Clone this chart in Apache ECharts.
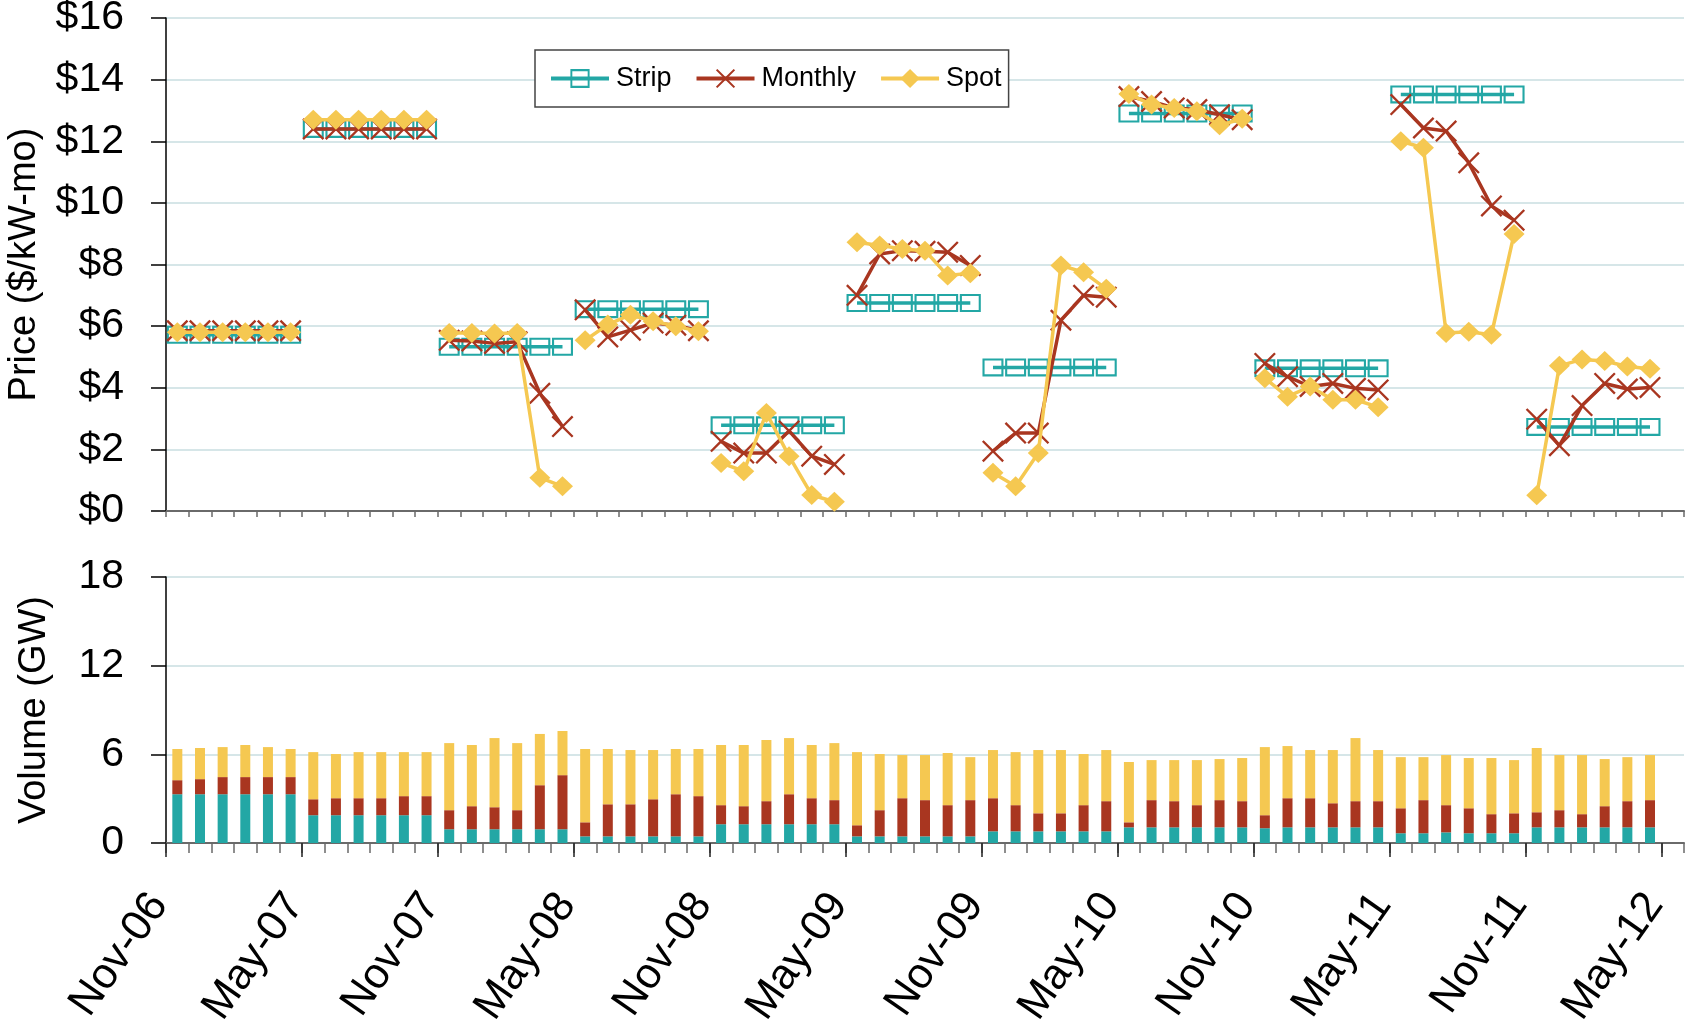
<!DOCTYPE html>
<html><head><meta charset="utf-8">
<script src="https://cdn.jsdelivr.net/npm/echarts@6/dist/echarts.min.js"></script>
<style>html,body{margin:0;padding:0;background:#fff}#c{width:1686px;height:1021px}</style>
</head><body><div id="c"></div>
<script>
// ---- data (months from Nov-06, one value per month, 6-month capability periods) ----
const xTickLabels = ['Nov-06','May-07','Nov-07','May-08','Nov-08','May-09','Nov-09','May-10','Nov-10','May-11','Nov-11','May-12'];
const seriesNames = ['Strip','Monthly','Spot'];
const monthsPerPeriod = 6;

const stripPrice = [
  5.72,5.72,5.72,5.72,5.72,5.72,
  12.4,12.4,12.4,12.4,12.4,12.4,
  5.33,5.33,5.33,5.33,5.33,5.33,
  6.55,6.55,6.55,6.55,6.55,6.55,
  2.78,2.78,2.78,2.78,2.78,2.78,
  6.75,6.75,6.75,6.75,6.75,6.75,
  4.66,4.66,4.66,4.66,4.66,4.66,
  12.9,12.9,12.9,12.9,12.9,12.9,
  4.63,4.63,4.63,4.63,4.63,4.63,
  13.52,13.52,13.52,13.52,13.52,13.52,
  2.73,2.73,2.73,2.73,2.73,2.73
];
const monthlyPrice = [
  5.85,5.85,5.85,5.85,5.85,5.85,
  12.4,12.4,12.4,12.4,12.4,12.4,
  5.54,5.52,5.44,5.49,3.82,2.74,
  6.53,5.65,5.87,6.1,6.03,5.85,
  2.26,1.88,1.88,2.6,1.78,1.51,
  7.0,8.34,8.45,8.43,8.4,7.97,
  1.94,2.53,2.53,6.19,7.0,6.94,
  13.45,13.29,13.08,13.03,12.86,12.7,
  4.79,4.36,4.04,4.14,3.98,3.93,
  13.19,12.43,12.33,11.3,9.9,9.44,
  2.98,2.12,3.42,4.14,3.96,4.01
];
const spotPrice = [
  5.8,5.8,5.8,5.8,5.8,5.8,
  12.7,12.7,12.7,12.7,12.7,12.7,
  5.78,5.78,5.76,5.78,1.08,0.8,
  5.54,6.05,6.37,6.16,6.0,5.83,
  1.56,1.29,3.18,1.78,0.52,0.3,
  8.72,8.62,8.5,8.45,7.64,7.72,
  1.24,0.8,1.88,7.97,7.75,7.21,
  13.53,13.19,13.08,12.97,12.52,12.73,
  4.31,3.71,4.04,3.61,3.61,3.37,
  12.0,11.79,5.78,5.82,5.72,8.99,
  0.51,4.71,4.92,4.87,4.69,4.62
];
const stripVolume = [
  3.30,3.30,3.30,3.30,3.30,3.30,
  1.88,1.88,1.88,1.88,1.88,1.88,
  0.93,0.93,0.93,0.93,0.93,0.93,
  0.45,0.45,0.45,0.45,0.45,0.45,
  1.27,1.27,1.27,1.27,1.27,1.27,
  0.45,0.45,0.45,0.45,0.45,0.45,
  0.79,0.79,0.79,0.79,0.79,0.79,
  1.06,1.06,1.06,1.06,1.06,1.06,
  1.00,1.06,1.06,1.06,1.06,1.06,
  0.66,0.66,0.72,0.66,0.66,0.66,
  1.06,1.06,1.06,1.06,1.06,1.06
];
const monthlyVolume = [
  0.95,1.02,1.16,1.16,1.16,1.16,
  1.08,1.15,1.15,1.15,1.29,1.29,
  1.29,1.56,1.49,1.29,2.98,3.66,
  0.95,2.17,2.17,2.51,2.85,2.72,
  1.29,1.22,1.56,2.03,1.76,1.63,
  0.75,1.77,2.58,2.45,2.11,2.45,
  2.24,1.77,1.22,1.22,1.77,2.04,
  0.34,1.84,1.77,1.50,1.84,1.77,
  0.88,1.97,1.97,1.63,1.77,1.77,
  1.69,2.24,1.84,1.69,1.29,1.35,
  1.02,1.16,0.89,1.43,1.77,1.84
];
const spotVolume = [
  2.11,2.11,2.03,2.17,2.03,1.90,
  3.19,2.99,3.12,3.12,2.98,2.98,
  4.54,4.14,4.68,4.54,3.47,2.99,
  4.96,3.74,3.67,3.33,3.06,3.19,
  4.07,4.14,4.14,3.80,3.60,3.86,
  4.95,3.80,2.92,3.05,3.53,2.91,
  3.26,3.59,4.28,4.28,3.46,3.46,
  4.08,2.71,2.78,3.05,2.78,2.92,
  4.61,3.53,3.26,3.60,4.27,3.46,
  3.46,2.91,3.39,3.40,3.80,3.60,
  4.35,3.73,4.00,3.19,2.98,3.05
];

// month categories (Nov-06 ... May-12); the last one is the empty month at the right edge
const MON = ['Jan','Feb','Mar','Apr','May','Jun','Jul','Aug','Sep','Oct','Nov','Dec'];
const months = [];
for (let k = 0; k <= stripPrice.length; k++) {
  const m = (10 + k) % 12, y = 6 + Math.floor((10 + k) / 12);
  months.push(MON[m] + '-' + String(y).padStart(2, '0'));
}

// ---- style ----
const FONT = '"Liberation Sans", Arial, sans-serif';
const C_STRIP = '#23a7a5', C_MONTH = '#a93620', C_SPOT = '#f5c851';
const GRID_LINE = '#d6e6e8';
const boxSymbol = 'path://M0,0H21V18H0Z M2.1,2.1V15.9H18.9V2.1Z';
const xSymbol = 'path://M0,1.5L1.5,0L10,8.5L18.5,0L20,1.5L11.5,10L20,18.5L18.5,20L10,11.5L1.5,20L0,18.5L8.5,10Z';
const nMonths = stripPrice.length;
const axisMax = months.length;

function pts(arr, g) {
  const out = [];
  for (let i = g * monthsPerPeriod; i < Math.min((g + 1) * monthsPerPeriod, arr.length); i++) out.push([i + 0.5, arr[i]]);
  return out;
}

const series = [];
const nGroups = Math.ceil(nMonths / monthsPerPeriod);
const lineDefs = [
  {name: 'Strip', arr: stripPrice, color: C_STRIP, symbol: boxSymbol, size: [21, 18], z: 3},
  {name: 'Monthly', arr: monthlyPrice, color: C_MONTH, symbol: xSymbol, size: 22, z: 4},
  {name: 'Spot', arr: spotPrice, color: C_SPOT, symbol: 'diamond', size: [21, 20], z: 5}
];
lineDefs.forEach(d => {
  for (let g = 0; g < nGroups; g++) {
    series.push({
      name: d.name, type: 'line', xAxisIndex: 0, yAxisIndex: 0,
      data: pts(d.arr, g), symbol: d.symbol, symbolSize: d.size, showSymbol: true,
      lineStyle: {color: d.color, width: 3.5}, itemStyle: {color: d.color},
      z: d.z, animation: false, emphasis: {disabled: true}
    });
  }
});
[[stripVolume, C_STRIP, 'StripVol'], [monthlyVolume, C_MONTH, 'MonthlyVol'], [spotVolume, C_SPOT, 'SpotVol']].forEach(([arr, col, nm]) => {
  series.push({
    name: nm, type: 'bar', stack: 'vol', xAxisIndex: 1, yAxisIndex: 1,
    data: arr.slice(), barWidth: 10, itemStyle: {color: col}, animation: false,
    emphasis: {disabled: true}
  });
});

const tickVals = xTickLabels.map((_, k) => k * monthsPerPeriod);
const chart = echarts.init(document.getElementById('c'), null, {renderer: 'canvas'});
chart.setOption({
  backgroundColor: '#fff',
  animation: false,
  textStyle: {fontFamily: FONT},
  grid: [
    {left: 166, top: 18, right: 2, height: 493, containLabel: false, outerBoundsMode: 'none'},
    {left: 166, top: 577, right: 2, height: 266, containLabel: false, outerBoundsMode: 'none'}
  ],
  legend: {
    data: seriesNames, left: 535, top: 50, orient: 'horizontal',
    itemWidth: 58, itemHeight: 24, itemGap: 23,
    padding: [15, 7, 15, 14],
    backgroundColor: '#fff', borderColor: '#444', borderWidth: 1.5, borderRadius: 0,
    lineStyle: {width: 4},
    textStyle: {fontSize: 27, color: '#000', fontFamily: FONT, padding: [0, 0, 0, 2]},
    selectedMode: false
  },
  xAxis: [
    {type: 'value', gridIndex: 0, min: 0, max: axisMax, interval: 1, position: 'bottom',
     axisLine: {show: true, lineStyle: {color: '#6a6a6a', width: 2}},
     axisTick: {show: true, inside: false, length: 6, lineStyle: {color: '#6a6a6a', width: 1.5}},
     axisLabel: {show: false}, splitLine: {show: false}},
    {type: 'category', gridIndex: 1, data: months, boundaryGap: true, position: 'bottom',
     axisLine: {show: true, lineStyle: {color: '#6a6a6a', width: 2}},
     axisTick: {show: true, inside: false, interval: 0, length: 10, lineStyle: {color: '#6a6a6a', width: 1.5}},
     axisLabel: {show: false}, splitLine: {show: false}},
    {type: 'value', gridIndex: 1, min: 0, max: axisMax, interval: monthsPerPeriod, position: 'bottom',
     axisLine: {show: false},
     axisTick: {show: true, inside: false, length: 14, lineStyle: {color: '#222', width: 1.5}, customValues: tickVals},
     axisLabel: {show: true, rotate: 55, margin: 45, fontSize: 43, color: '#000', fontFamily: FONT,
                 padding: [0, 12, 0, 0],
                 customValues: tickVals, showMinLabel: true, showMaxLabel: true, hideOverlap: false,
                 formatter: v => (v % monthsPerPeriod === 0 && xTickLabels[v / monthsPerPeriod]) ? xTickLabels[v / monthsPerPeriod] : ''},
     splitLine: {show: false}}
  ],
  yAxis: [
    {type: 'value', gridIndex: 0, min: 0, max: 16, interval: 2,
     name: 'Price ($/kW-mo)', nameLocation: 'middle', nameGap: 122,
     nameTextStyle: {fontSize: 38, color: '#000', fontFamily: FONT},
     axisLine: {show: true, lineStyle: {color: '#000', width: 1.5}},
     axisTick: {show: true, inside: false, length: 15, lineStyle: {color: '#000', width: 1.5}},
     axisLabel: {fontSize: 41, color: '#000', margin: 42, fontFamily: FONT, formatter: v => '$' + v},
     splitLine: {show: true, lineStyle: {color: GRID_LINE, width: 2}}},
    {type: 'value', gridIndex: 1, min: 0, max: 18, interval: 6,
     name: 'Volume (GW)', nameLocation: 'middle', nameGap: 112,
     nameTextStyle: {fontSize: 38, color: '#000', fontFamily: FONT},
     axisLine: {show: true, lineStyle: {color: '#000', width: 1.5}},
     axisTick: {show: true, inside: false, length: 15, lineStyle: {color: '#000', width: 1.5}},
     axisLabel: {fontSize: 41, color: '#000', margin: 42, fontFamily: FONT},
     splitLine: {show: true, lineStyle: {color: GRID_LINE, width: 2}}}
  ],
  series: series
});
</script></body></html>
